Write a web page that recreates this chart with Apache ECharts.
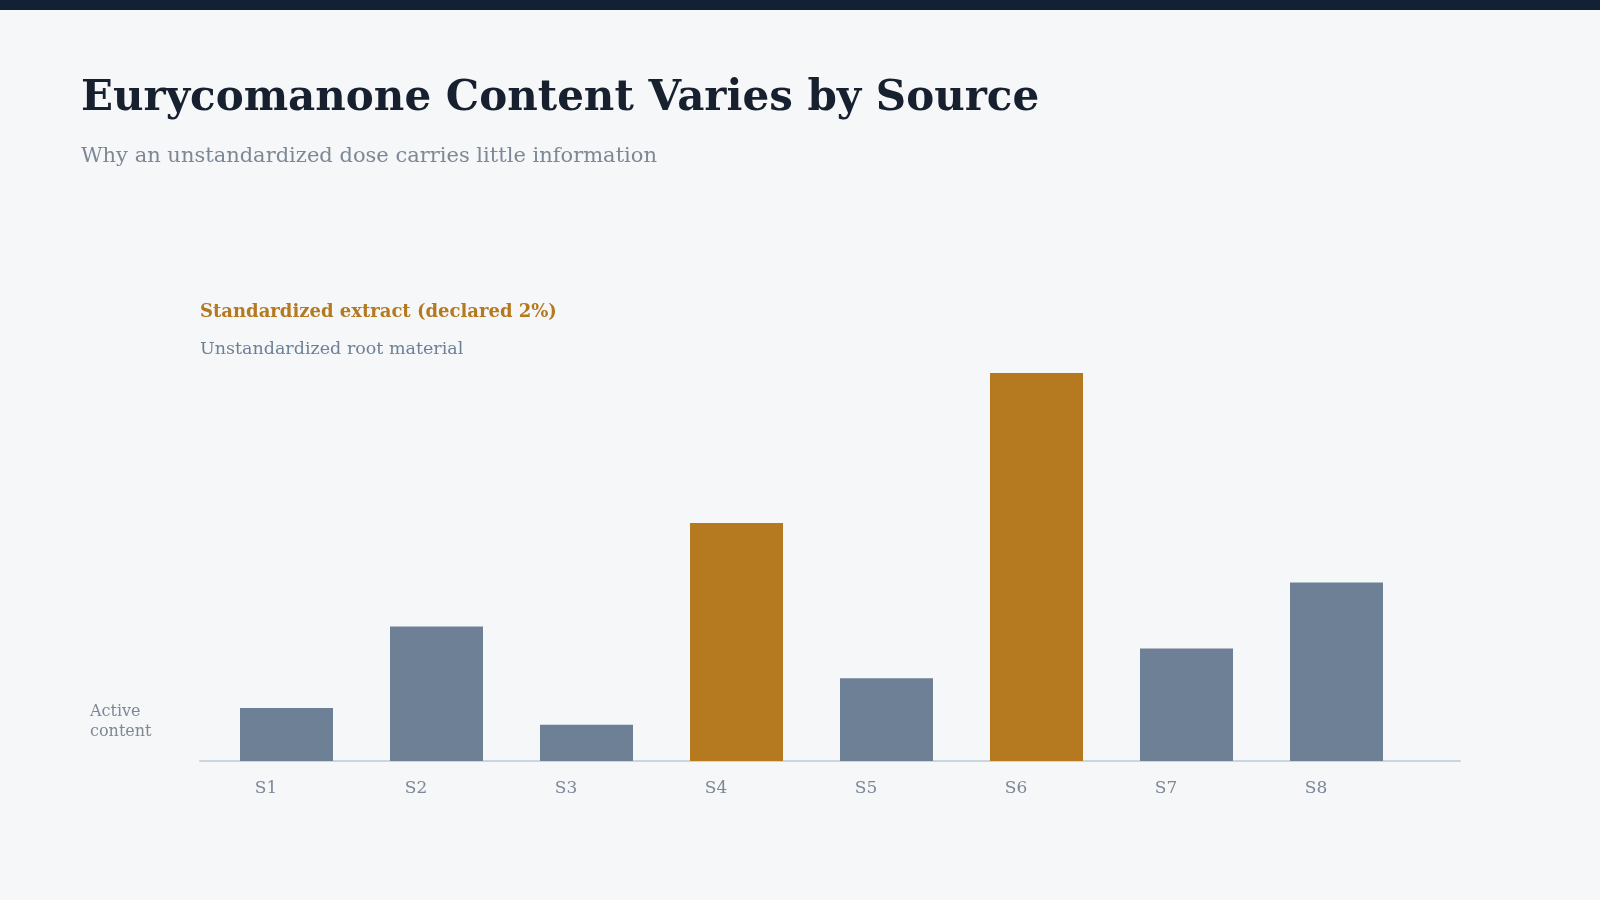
<!DOCTYPE html>
<html>
<head>
<meta charset="utf-8">
<title>Eurycomanone Content Varies by Source</title>
<script src="https://cdn.jsdelivr.net/npm/echarts@6/dist/echarts.min.js"></script>
<style>
  html, body { margin: 0; padding: 0; background: #f5f7f9; }
  #chart { width: 1600px; height: 900px; }
</style>
</head>
<body>
<div id="chart"></div>
<script>
// 数据
const categories = ["S1", "S2", "S3", "S4", "S5", "S6", "S7", "S8"];
const contentValues = [0.41, 1.04, 0.28, 1.84, 0.64, 3.0, 0.87, 1.38];
const sourceTypes = ["raw", "raw", "raw", "std", "raw", "std", "raw", "raw"];
const seriesNames = ["Standardized extract (declared 2%)", "Unstandardized root material"];

const FONT = "Georgia, 'DejaVu Serif', serif";
const ORANGE = "#b5791f";
const SLATE = "#6e8096";
const MUTED = "#7d8896";

// 按来源类型拆成两组
const stdData = contentValues.map((v, i) => sourceTypes[i] === "std" ? v : "-");
const rawData = contentValues.map((v, i) => sourceTypes[i] === "raw" ? v : "-");

let myChart = echarts.init(document.getElementById("chart"));
let option = {
  backgroundColor: "#f5f7f9",
  animation: false,
  title: {
    text: "Eurycomanone Content Varies by Source",
    subtext: "Why an unstandardized dose carries little information",
    left: 76,
    top: 73,
    itemGap: 26,
    textStyle: { fontFamily: FONT, fontSize: 42, fontWeight: "bold", color: "#17202e" },
    subtextStyle: { fontFamily: FONT, fontSize: 21, color: MUTED }
  },
  legend: {
    orient: "vertical",
    left: 190,
    top: 298,
    itemWidth: 0,
    itemHeight: 0,
    itemGap: 19,
    selectedMode: false,
    textStyle: { fontFamily: FONT, fontSize: 18 },
    data: [
      { name: seriesNames[0], textStyle: { color: ORANGE, fontWeight: "bold", fontSize: 18 } },
      { name: seriesNames[1], textStyle: { color: SLATE, fontSize: 17.5 } }
    ]
  },
  graphic: [
    { type: "rect", left: 0, top: 0, shape: { width: 1600, height: 10 }, style: { fill: "#132134" } },
    {
      type: "text", left: 90, top: 702,
      style: { text: "Active\ncontent", font: "16px " + FONT, fill: MUTED, lineHeight: 20 }
    }
  ],
  grid: [
    { left: 211.5, right: 188.5, top: 373, bottom: 139 },
    // 只用来画底部的基线
    { left: 200, right: 140, top: 373, bottom: 139 }
  ],
  xAxis: [
    {
      type: "category",
      data: categories,
      gridIndex: 0,
      axisLine: { show: false },
      axisTick: { show: false },
      axisLabel: {
        margin: 19,
        padding: [0, 41, 0, 0],
        fontFamily: FONT,
        fontSize: 17,
        color: MUTED
      }
    },
    {
      type: "value",
      gridIndex: 1,
      axisLine: { show: true, lineStyle: { color: "#cbd5dd", width: 2 } },
      axisTick: { show: false },
      axisLabel: { show: false },
      splitLine: { show: false }
    }
  ],
  yAxis: [
    { type: "value", gridIndex: 0, min: 0, max: 3.0, show: false },
    { type: "value", gridIndex: 1, show: false }
  ],
  series: [
    {
      name: seriesNames[0],
      type: "bar",
      xAxisIndex: 0,
      yAxisIndex: 0,
      barWidth: 93,
      barGap: "-100%",
      itemStyle: { color: ORANGE },
      data: stdData
    },
    {
      name: seriesNames[1],
      type: "bar",
      xAxisIndex: 0,
      yAxisIndex: 0,
      barWidth: 93,
      barGap: "-100%",
      itemStyle: { color: SLATE },
      data: rawData
    }
  ]
};
myChart.setOption(option);
</script>
</body>
</html>
